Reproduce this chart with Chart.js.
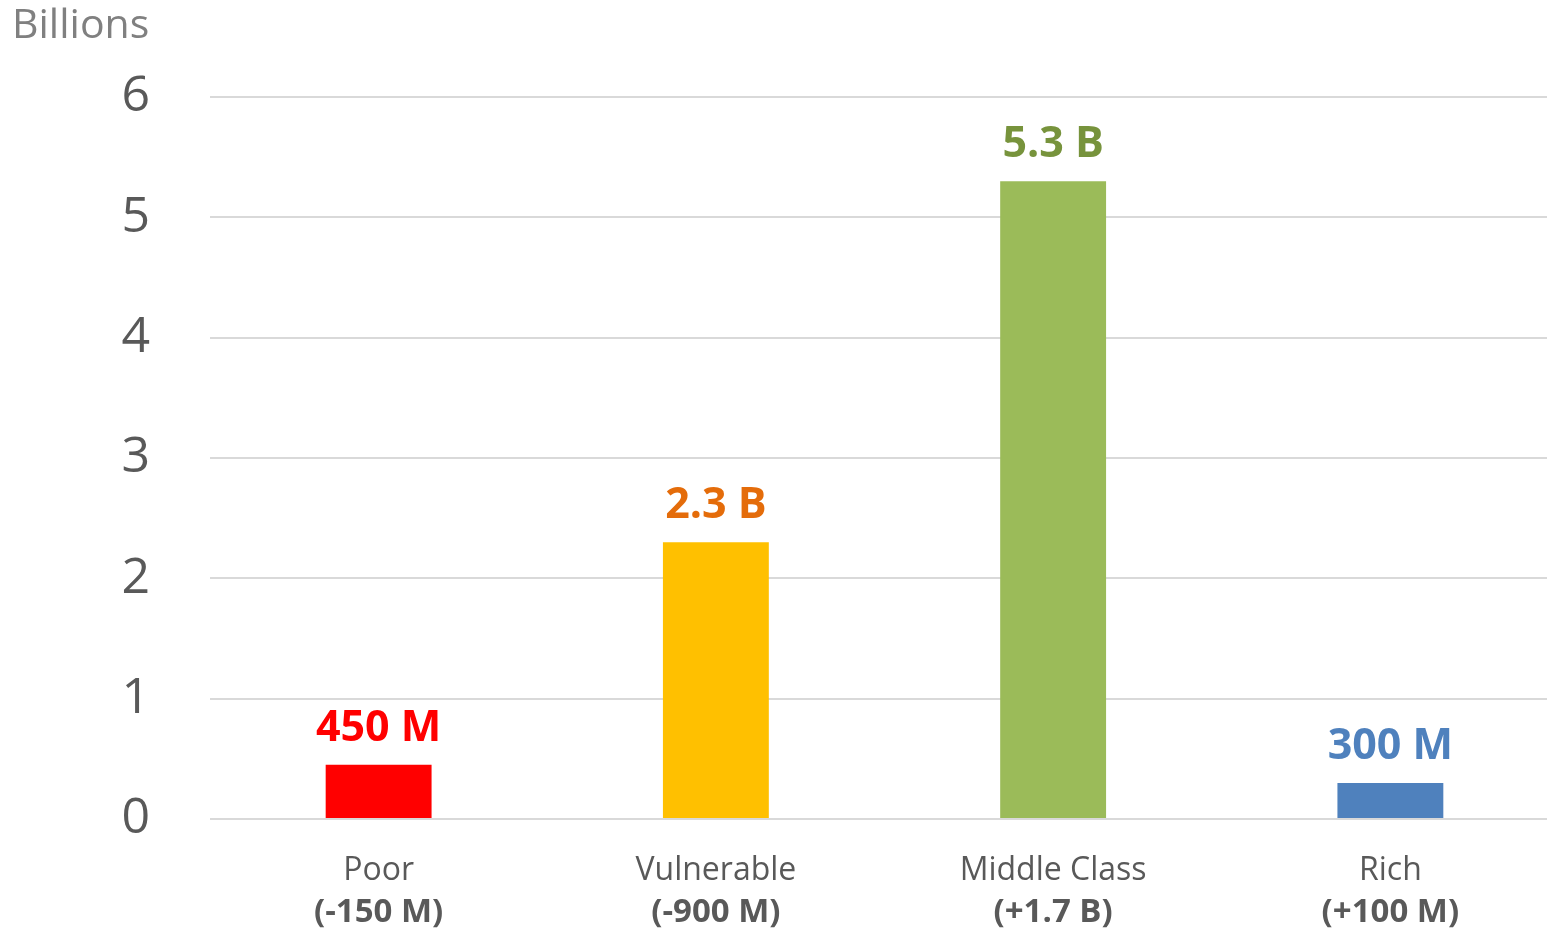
<!DOCTYPE html>
<html>
<head>
<meta charset="utf-8">
<script src="https://cdn.jsdelivr.net/npm/chart.js@4"></script>
<style>
  html, body { margin: 0; padding: 0; overflow: hidden; background: #ffffff; }
  #wrap { width: 1547px; height: 933px; overflow: hidden; }
  canvas { display: block; }
</style>
</head>
<body>
<div id="wrap"><canvas id="c" width="1560" height="933"></canvas></div>
<script>
const categories = ['Poor', 'Vulnerable', 'Middle Class', 'Rich'];
const changeLabels = ['(-150 M)', '(-900 M)', '(+1.7 B)', '(+100 M)'];
const populationBillions = [0.45, 2.3, 5.3, 0.3];
const valueLabels = ['450 M', '2.3 B', '5.3 B', '300 M'];
const barColors = ['#FF0000', '#FFC000', '#9BBB59', '#4F81BD'];
const labelColors = ['#FF0000', '#E46C0A', '#77933C', '#4F81BD'];
const yTicks = [0, 1, 2, 3, 4, 5, 6];
const axisUnit = 'Billions';

const FONT = "'Open Sans', 'Noto Sans', sans-serif";

const valueLabelPlugin = {
  id: 'valueLabels',
  afterDatasetsDraw(chart) {
    const ctx = chart.ctx;
    const meta = chart.getDatasetMeta(0);
    ctx.save();
    ctx.font = 'bold 43px ' + FONT;
    ctx.textAlign = 'center';
    ctx.textBaseline = 'middle';
    meta.data.forEach((bar, i) => {
      ctx.fillStyle = labelColors[i];
      ctx.fillText(valueLabels[i], bar.x, bar.y - 36);
    });
    ctx.restore();
  }
};

const unitPlugin = {
  id: 'unitLabel',
  afterDraw(chart) {
    const ctx = chart.ctx;
    ctx.save();
    ctx.font = '41px ' + FONT;
    ctx.fillStyle = '#808080';
    ctx.textAlign = 'left';
    ctx.textBaseline = 'alphabetic';
    ctx.fillText(axisUnit, 12, 38);
    ctx.restore();
  }
};

new Chart(document.getElementById('c'), {
  type: 'bar',
  data: {
    labels: categories,
    datasets: [{
      data: populationBillions,
      backgroundColor: barColors,
      borderWidth: 0,
      categoryPercentage: 1,
      barPercentage: 0.314,
      xAxisID: 'x',
      yAxisID: 'y'
    }]
  },
  options: {
    responsive: false,
    animation: false,
    layout: { padding: { top: 97, bottom: 0, left: 0, right: 1 } },
    plugins: {
      legend: { display: false },
      tooltip: { enabled: false },
      title: { display: false }
    },
    scales: {
      y: {
        min: 0,
        max: 6,
        afterBuildTicks(scale) { scale.ticks = yTicks.map(v => ({ value: v })); },
        afterFit(scale) { scale.width = 210; },
        ticks: {
          padding: 60,
          color: '#595959',
          font: { family: FONT, size: 50 }
        },
        grid: { color: '#d9d9d9', lineWidth: 2, drawTicks: false },
        border: { display: false }
      },
      x: {
        type: 'category',
        position: 'bottom',
        weight: 0,
        labels: categories,
        afterFit(scale) { scale.height = 71; },
        ticks: {
          padding: 33,
          color: '#595959',
          maxRotation: 0,
          autoSkip: false,
          font: { family: FONT, size: 32 }
        },
        grid: { display: false, drawTicks: false },
        border: { display: false }
      },
      x2: {
        type: 'category',
        position: 'bottom',
        weight: 1,
        labels: changeLabels,
        afterFit(scale) { scale.height = 43; },
        ticks: {
          padding: 3,
          color: '#595959',
          maxRotation: 0,
          autoSkip: false,
          font: { family: FONT, size: 33, weight: 'bold' }
        },
        grid: { display: false, drawTicks: false },
        border: { display: false }
      }
    }
  },
  plugins: [valueLabelPlugin, unitPlugin]
});
</script>
</body>
</html>
